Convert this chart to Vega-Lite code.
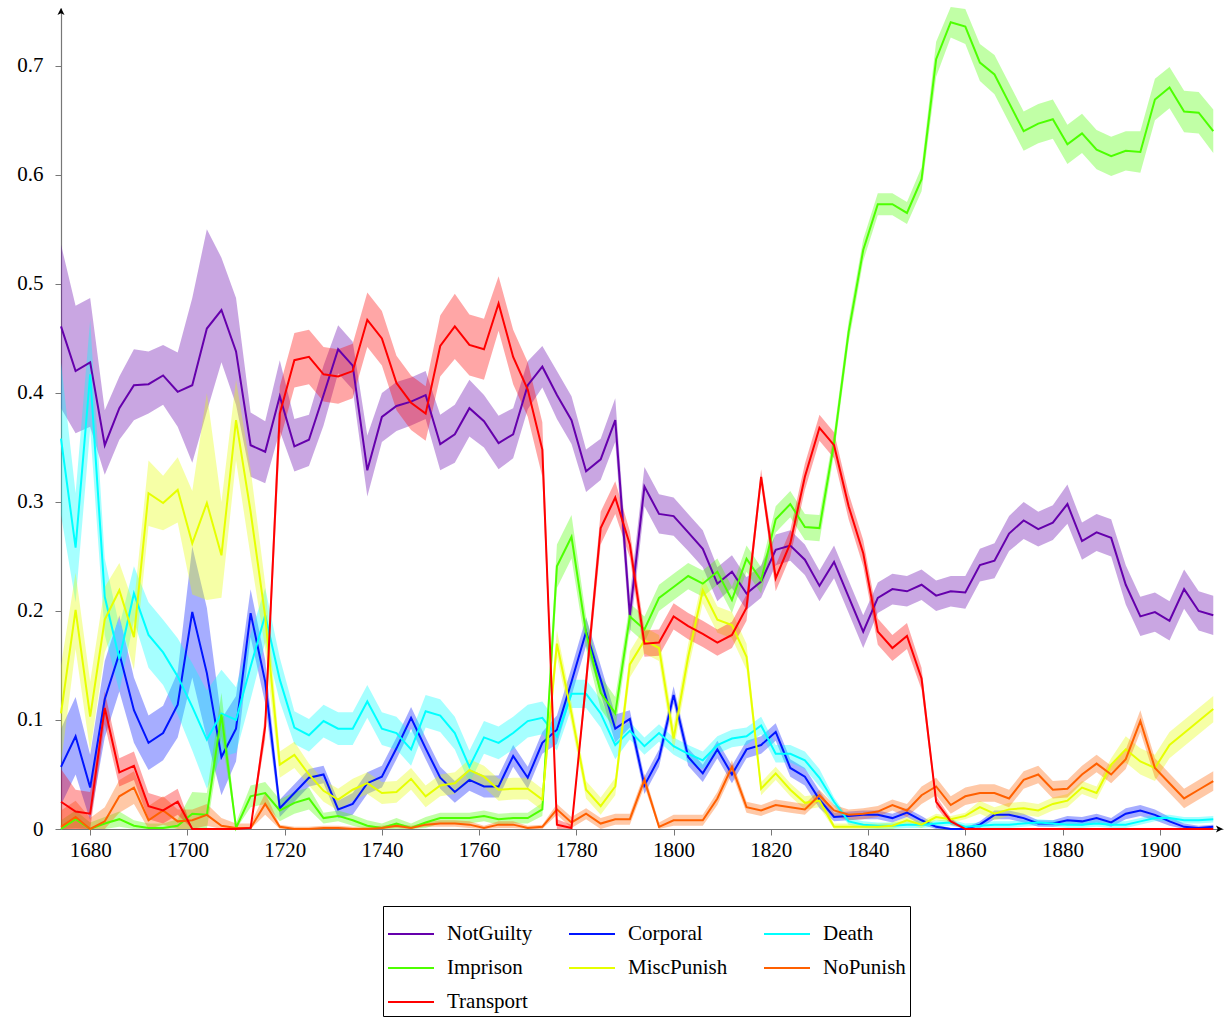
{
"$schema": "https://vega.github.io/schema/vega-lite/v6.json",
"width": 1162,
"height": 821,
"autosize": {"type": "none"},
"padding": {"left": 61, "top": 8, "right": 1, "bottom": 189},
"background": "white",
"config": {"view": {"stroke": null}, "font": "Liberation Serif"},
"datasets": {
"d": [
{"s":"NotGuilty","x":1674,"y":0.461,"hi":0.536,"lo":0.386},
{"s":"NotGuilty","x":1677,"y":0.420,"hi":0.480,"lo":0.363},
{"s":"NotGuilty","x":1680,"y":0.428,"hi":0.487,"lo":0.369},
{"s":"NotGuilty","x":1683,"y":0.352,"hi":0.384,"lo":0.325},
{"s":"NotGuilty","x":1686,"y":0.386,"hi":0.415,"lo":0.357},
{"s":"NotGuilty","x":1689,"y":0.407,"hi":0.440,"lo":0.375},
{"s":"NotGuilty","x":1692,"y":0.408,"hi":0.438,"lo":0.381},
{"s":"NotGuilty","x":1695,"y":0.416,"hi":0.444,"lo":0.389},
{"s":"NotGuilty","x":1698,"y":0.401,"hi":0.437,"lo":0.369},
{"s":"NotGuilty","x":1701,"y":0.407,"hi":0.487,"lo":0.336},
{"s":"NotGuilty","x":1704,"y":0.459,"hi":0.550,"lo":0.383},
{"s":"NotGuilty","x":1707,"y":0.476,"hi":0.524,"lo":0.428},
{"s":"NotGuilty","x":1710,"y":0.438,"hi":0.487,"lo":0.389},
{"s":"NotGuilty","x":1713,"y":0.352,"hi":0.382,"lo":0.323},
{"s":"NotGuilty","x":1716,"y":0.346,"hi":0.374,"lo":0.317},
{"s":"NotGuilty","x":1719,"y":0.397,"hi":0.430,"lo":0.365},
{"s":"NotGuilty","x":1722,"y":0.351,"hi":0.376,"lo":0.328},
{"s":"NotGuilty","x":1725,"y":0.357,"hi":0.380,"lo":0.333},
{"s":"NotGuilty","x":1728,"y":0.398,"hi":0.425,"lo":0.370},
{"s":"NotGuilty","x":1731,"y":0.440,"hi":0.462,"lo":0.418},
{"s":"NotGuilty","x":1734,"y":0.425,"hi":0.447,"lo":0.403},
{"s":"NotGuilty","x":1737,"y":0.329,"hi":0.361,"lo":0.305},
{"s":"NotGuilty","x":1740,"y":0.378,"hi":0.400,"lo":0.355},
{"s":"NotGuilty","x":1743,"y":0.388,"hi":0.410,"lo":0.365},
{"s":"NotGuilty","x":1746,"y":0.392,"hi":0.414,"lo":0.370},
{"s":"NotGuilty","x":1749,"y":0.398,"hi":0.420,"lo":0.376},
{"s":"NotGuilty","x":1752,"y":0.353,"hi":0.380,"lo":0.329},
{"s":"NotGuilty","x":1755,"y":0.362,"hi":0.389,"lo":0.336},
{"s":"NotGuilty","x":1758,"y":0.386,"hi":0.412,"lo":0.360},
{"s":"NotGuilty","x":1761,"y":0.374,"hi":0.398,"lo":0.350},
{"s":"NotGuilty","x":1764,"y":0.354,"hi":0.379,"lo":0.330},
{"s":"NotGuilty","x":1767,"y":0.362,"hi":0.386,"lo":0.340},
{"s":"NotGuilty","x":1770,"y":0.407,"hi":0.429,"lo":0.385},
{"s":"NotGuilty","x":1773,"y":0.424,"hi":0.443,"lo":0.405},
{"s":"NotGuilty","x":1776,"y":0.398,"hi":0.420,"lo":0.376},
{"s":"NotGuilty","x":1779,"y":0.375,"hi":0.397,"lo":0.353},
{"s":"NotGuilty","x":1782,"y":0.328,"hi":0.348,"lo":0.309},
{"s":"NotGuilty","x":1785,"y":0.339,"hi":0.358,"lo":0.320},
{"s":"NotGuilty","x":1788,"y":0.375,"hi":0.395,"lo":0.355},
{"s":"NotGuilty","x":1791,"y":0.196,"hi":0.214,"lo":0.178},
{"s":"NotGuilty","x":1794,"y":0.314,"hi":0.332,"lo":0.296},
{"s":"NotGuilty","x":1797,"y":0.289,"hi":0.307,"lo":0.271},
{"s":"NotGuilty","x":1800,"y":0.287,"hi":0.304,"lo":0.269},
{"s":"NotGuilty","x":1803,"y":0.272,"hi":0.289,"lo":0.255},
{"s":"NotGuilty","x":1806,"y":0.257,"hi":0.274,"lo":0.240},
{"s":"NotGuilty","x":1809,"y":0.225,"hi":0.240,"lo":0.209},
{"s":"NotGuilty","x":1812,"y":0.236,"hi":0.251,"lo":0.221},
{"s":"NotGuilty","x":1815,"y":0.216,"hi":0.231,"lo":0.201},
{"s":"NotGuilty","x":1818,"y":0.227,"hi":0.242,"lo":0.212},
{"s":"NotGuilty","x":1821,"y":0.256,"hi":0.270,"lo":0.242},
{"s":"NotGuilty","x":1824,"y":0.260,"hi":0.274,"lo":0.246},
{"s":"NotGuilty","x":1827,"y":0.247,"hi":0.261,"lo":0.233},
{"s":"NotGuilty","x":1830,"y":0.223,"hi":0.237,"lo":0.209},
{"s":"NotGuilty","x":1833,"y":0.245,"hi":0.260,"lo":0.230},
{"s":"NotGuilty","x":1836,"y":0.213,"hi":0.228,"lo":0.198},
{"s":"NotGuilty","x":1839,"y":0.181,"hi":0.196,"lo":0.166},
{"s":"NotGuilty","x":1842,"y":0.212,"hi":0.226,"lo":0.198},
{"s":"NotGuilty","x":1845,"y":0.220,"hi":0.234,"lo":0.206},
{"s":"NotGuilty","x":1848,"y":0.218,"hi":0.232,"lo":0.204},
{"s":"NotGuilty","x":1851,"y":0.224,"hi":0.238,"lo":0.210},
{"s":"NotGuilty","x":1854,"y":0.214,"hi":0.228,"lo":0.200},
{"s":"NotGuilty","x":1857,"y":0.218,"hi":0.232,"lo":0.204},
{"s":"NotGuilty","x":1860,"y":0.217,"hi":0.232,"lo":0.202},
{"s":"NotGuilty","x":1863,"y":0.242,"hi":0.257,"lo":0.227},
{"s":"NotGuilty","x":1866,"y":0.246,"hi":0.262,"lo":0.230},
{"s":"NotGuilty","x":1869,"y":0.271,"hi":0.287,"lo":0.255},
{"s":"NotGuilty","x":1872,"y":0.283,"hi":0.300,"lo":0.266},
{"s":"NotGuilty","x":1875,"y":0.275,"hi":0.291,"lo":0.259},
{"s":"NotGuilty","x":1878,"y":0.281,"hi":0.297,"lo":0.265},
{"s":"NotGuilty","x":1881,"y":0.298,"hi":0.316,"lo":0.280},
{"s":"NotGuilty","x":1884,"y":0.264,"hi":0.281,"lo":0.247},
{"s":"NotGuilty","x":1887,"y":0.272,"hi":0.289,"lo":0.255},
{"s":"NotGuilty","x":1890,"y":0.267,"hi":0.284,"lo":0.250},
{"s":"NotGuilty","x":1893,"y":0.224,"hi":0.242,"lo":0.206},
{"s":"NotGuilty","x":1896,"y":0.195,"hi":0.213,"lo":0.177},
{"s":"NotGuilty","x":1899,"y":0.199,"hi":0.217,"lo":0.181},
{"s":"NotGuilty","x":1902,"y":0.191,"hi":0.209,"lo":0.173},
{"s":"NotGuilty","x":1905,"y":0.220,"hi":0.238,"lo":0.202},
{"s":"NotGuilty","x":1908,"y":0.200,"hi":0.218,"lo":0.182},
{"s":"NotGuilty","x":1911,"y":0.196,"hi":0.214,"lo":0.178},
{"s":"Corporal","x":1674,"y":0.057,"hi":0.092,"lo":0.022},
{"s":"Corporal","x":1677,"y":0.085,"hi":0.121,"lo":0.050},
{"s":"Corporal","x":1680,"y":0.038,"hi":0.068,"lo":0.008},
{"s":"Corporal","x":1683,"y":0.119,"hi":0.154,"lo":0.084},
{"s":"Corporal","x":1686,"y":0.161,"hi":0.196,"lo":0.126},
{"s":"Corporal","x":1689,"y":0.109,"hi":0.139,"lo":0.079},
{"s":"Corporal","x":1692,"y":0.079,"hi":0.104,"lo":0.054},
{"s":"Corporal","x":1695,"y":0.088,"hi":0.113,"lo":0.063},
{"s":"Corporal","x":1698,"y":0.114,"hi":0.144,"lo":0.084},
{"s":"Corporal","x":1701,"y":0.199,"hi":0.259,"lo":0.139},
{"s":"Corporal","x":1704,"y":0.143,"hi":0.203,"lo":0.083},
{"s":"Corporal","x":1707,"y":0.066,"hi":0.101,"lo":0.031},
{"s":"Corporal","x":1710,"y":0.092,"hi":0.122,"lo":0.062},
{"s":"Corporal","x":1713,"y":0.198,"hi":0.220,"lo":0.176},
{"s":"Corporal","x":1716,"y":0.135,"hi":0.155,"lo":0.115},
{"s":"Corporal","x":1719,"y":0.019,"hi":0.027,"lo":0.011},
{"s":"Corporal","x":1722,"y":0.033,"hi":0.041,"lo":0.025},
{"s":"Corporal","x":1725,"y":0.047,"hi":0.055,"lo":0.039},
{"s":"Corporal","x":1728,"y":0.050,"hi":0.058,"lo":0.042},
{"s":"Corporal","x":1731,"y":0.018,"hi":0.026,"lo":0.010},
{"s":"Corporal","x":1734,"y":0.023,"hi":0.033,"lo":0.013},
{"s":"Corporal","x":1737,"y":0.042,"hi":0.052,"lo":0.032},
{"s":"Corporal","x":1740,"y":0.048,"hi":0.058,"lo":0.038},
{"s":"Corporal","x":1743,"y":0.074,"hi":0.084,"lo":0.064},
{"s":"Corporal","x":1746,"y":0.102,"hi":0.112,"lo":0.092},
{"s":"Corporal","x":1749,"y":0.074,"hi":0.084,"lo":0.064},
{"s":"Corporal","x":1752,"y":0.047,"hi":0.057,"lo":0.037},
{"s":"Corporal","x":1755,"y":0.034,"hi":0.044,"lo":0.024},
{"s":"Corporal","x":1758,"y":0.045,"hi":0.055,"lo":0.035},
{"s":"Corporal","x":1761,"y":0.039,"hi":0.049,"lo":0.029},
{"s":"Corporal","x":1764,"y":0.039,"hi":0.049,"lo":0.029},
{"s":"Corporal","x":1767,"y":0.067,"hi":0.077,"lo":0.057},
{"s":"Corporal","x":1770,"y":0.047,"hi":0.057,"lo":0.037},
{"s":"Corporal","x":1773,"y":0.079,"hi":0.089,"lo":0.069},
{"s":"Corporal","x":1776,"y":0.091,"hi":0.104,"lo":0.078},
{"s":"Corporal","x":1779,"y":0.135,"hi":0.148,"lo":0.122},
{"s":"Corporal","x":1782,"y":0.181,"hi":0.194,"lo":0.168},
{"s":"Corporal","x":1785,"y":0.137,"hi":0.150,"lo":0.124},
{"s":"Corporal","x":1788,"y":0.092,"hi":0.105,"lo":0.079},
{"s":"Corporal","x":1791,"y":0.101,"hi":0.109,"lo":0.093},
{"s":"Corporal","x":1794,"y":0.040,"hi":0.048,"lo":0.032},
{"s":"Corporal","x":1797,"y":0.065,"hi":0.073,"lo":0.057},
{"s":"Corporal","x":1800,"y":0.123,"hi":0.131,"lo":0.115},
{"s":"Corporal","x":1803,"y":0.066,"hi":0.074,"lo":0.058},
{"s":"Corporal","x":1806,"y":0.051,"hi":0.059,"lo":0.043},
{"s":"Corporal","x":1809,"y":0.073,"hi":0.081,"lo":0.065},
{"s":"Corporal","x":1812,"y":0.050,"hi":0.058,"lo":0.042},
{"s":"Corporal","x":1815,"y":0.073,"hi":0.081,"lo":0.065},
{"s":"Corporal","x":1818,"y":0.077,"hi":0.085,"lo":0.069},
{"s":"Corporal","x":1821,"y":0.089,"hi":0.097,"lo":0.081},
{"s":"Corporal","x":1824,"y":0.056,"hi":0.064,"lo":0.048},
{"s":"Corporal","x":1827,"y":0.048,"hi":0.056,"lo":0.040},
{"s":"Corporal","x":1830,"y":0.027,"hi":0.035,"lo":0.019},
{"s":"Corporal","x":1833,"y":0.011,"hi":0.015,"lo":0.007},
{"s":"Corporal","x":1836,"y":0.012,"hi":0.016,"lo":0.008},
{"s":"Corporal","x":1839,"y":0.013,"hi":0.017,"lo":0.009},
{"s":"Corporal","x":1842,"y":0.013,"hi":0.017,"lo":0.009},
{"s":"Corporal","x":1845,"y":0.010,"hi":0.014,"lo":0.006},
{"s":"Corporal","x":1848,"y":0.015,"hi":0.019,"lo":0.011},
{"s":"Corporal","x":1851,"y":0.008,"hi":0.012,"lo":0.004},
{"s":"Corporal","x":1854,"y":0.002,"hi":0.004,"lo":0.000},
{"s":"Corporal","x":1857,"y":0.000,"hi":0.001,"lo":0.000},
{"s":"Corporal","x":1860,"y":0.000,"hi":0.001,"lo":0.000},
{"s":"Corporal","x":1863,"y":0.004,"hi":0.007,"lo":0.001},
{"s":"Corporal","x":1866,"y":0.013,"hi":0.017,"lo":0.009},
{"s":"Corporal","x":1869,"y":0.013,"hi":0.017,"lo":0.009},
{"s":"Corporal","x":1872,"y":0.010,"hi":0.014,"lo":0.006},
{"s":"Corporal","x":1875,"y":0.005,"hi":0.008,"lo":0.002},
{"s":"Corporal","x":1878,"y":0.005,"hi":0.008,"lo":0.002},
{"s":"Corporal","x":1881,"y":0.008,"hi":0.012,"lo":0.004},
{"s":"Corporal","x":1884,"y":0.007,"hi":0.011,"lo":0.003},
{"s":"Corporal","x":1887,"y":0.010,"hi":0.014,"lo":0.006},
{"s":"Corporal","x":1890,"y":0.006,"hi":0.010,"lo":0.002},
{"s":"Corporal","x":1893,"y":0.014,"hi":0.019,"lo":0.009},
{"s":"Corporal","x":1896,"y":0.017,"hi":0.022,"lo":0.012},
{"s":"Corporal","x":1899,"y":0.013,"hi":0.018,"lo":0.008},
{"s":"Corporal","x":1902,"y":0.007,"hi":0.011,"lo":0.003},
{"s":"Corporal","x":1905,"y":0.002,"hi":0.005,"lo":0.000},
{"s":"Corporal","x":1908,"y":0.001,"hi":0.003,"lo":0.000},
{"s":"Corporal","x":1911,"y":0.002,"hi":0.004,"lo":0.000},
{"s":"Death","x":1674,"y":0.358,"hi":0.428,"lo":0.288},
{"s":"Death","x":1677,"y":0.258,"hi":0.308,"lo":0.208},
{"s":"Death","x":1680,"y":0.417,"hi":0.467,"lo":0.367},
{"s":"Death","x":1683,"y":0.213,"hi":0.248,"lo":0.178},
{"s":"Death","x":1686,"y":0.156,"hi":0.186,"lo":0.126},
{"s":"Death","x":1689,"y":0.216,"hi":0.241,"lo":0.191},
{"s":"Death","x":1692,"y":0.178,"hi":0.208,"lo":0.148},
{"s":"Death","x":1695,"y":0.162,"hi":0.192,"lo":0.132},
{"s":"Death","x":1698,"y":0.140,"hi":0.175,"lo":0.105},
{"s":"Death","x":1701,"y":0.112,"hi":0.152,"lo":0.072},
{"s":"Death","x":1704,"y":0.082,"hi":0.127,"lo":0.037},
{"s":"Death","x":1707,"y":0.106,"hi":0.146,"lo":0.066},
{"s":"Death","x":1710,"y":0.100,"hi":0.130,"lo":0.070},
{"s":"Death","x":1713,"y":0.149,"hi":0.179,"lo":0.119},
{"s":"Death","x":1716,"y":0.196,"hi":0.221,"lo":0.171},
{"s":"Death","x":1719,"y":0.137,"hi":0.157,"lo":0.117},
{"s":"Death","x":1722,"y":0.093,"hi":0.108,"lo":0.078},
{"s":"Death","x":1725,"y":0.086,"hi":0.101,"lo":0.071},
{"s":"Death","x":1728,"y":0.099,"hi":0.114,"lo":0.084},
{"s":"Death","x":1731,"y":0.092,"hi":0.107,"lo":0.077},
{"s":"Death","x":1734,"y":0.092,"hi":0.107,"lo":0.077},
{"s":"Death","x":1737,"y":0.117,"hi":0.132,"lo":0.102},
{"s":"Death","x":1740,"y":0.092,"hi":0.107,"lo":0.077},
{"s":"Death","x":1743,"y":0.088,"hi":0.103,"lo":0.073},
{"s":"Death","x":1746,"y":0.073,"hi":0.088,"lo":0.058},
{"s":"Death","x":1749,"y":0.108,"hi":0.123,"lo":0.093},
{"s":"Death","x":1752,"y":0.104,"hi":0.119,"lo":0.089},
{"s":"Death","x":1755,"y":0.088,"hi":0.103,"lo":0.073},
{"s":"Death","x":1758,"y":0.057,"hi":0.072,"lo":0.042},
{"s":"Death","x":1761,"y":0.084,"hi":0.099,"lo":0.069},
{"s":"Death","x":1764,"y":0.079,"hi":0.094,"lo":0.064},
{"s":"Death","x":1767,"y":0.088,"hi":0.103,"lo":0.073},
{"s":"Death","x":1770,"y":0.099,"hi":0.114,"lo":0.084},
{"s":"Death","x":1773,"y":0.102,"hi":0.117,"lo":0.087},
{"s":"Death","x":1776,"y":0.085,"hi":0.098,"lo":0.072},
{"s":"Death","x":1779,"y":0.124,"hi":0.137,"lo":0.111},
{"s":"Death","x":1782,"y":0.124,"hi":0.137,"lo":0.111},
{"s":"Death","x":1785,"y":0.106,"hi":0.119,"lo":0.093},
{"s":"Death","x":1788,"y":0.077,"hi":0.090,"lo":0.064},
{"s":"Death","x":1791,"y":0.090,"hi":0.098,"lo":0.082},
{"s":"Death","x":1794,"y":0.076,"hi":0.084,"lo":0.068},
{"s":"Death","x":1797,"y":0.088,"hi":0.096,"lo":0.080},
{"s":"Death","x":1800,"y":0.076,"hi":0.084,"lo":0.068},
{"s":"Death","x":1803,"y":0.069,"hi":0.077,"lo":0.061},
{"s":"Death","x":1806,"y":0.063,"hi":0.071,"lo":0.055},
{"s":"Death","x":1809,"y":0.077,"hi":0.085,"lo":0.069},
{"s":"Death","x":1812,"y":0.083,"hi":0.091,"lo":0.075},
{"s":"Death","x":1815,"y":0.085,"hi":0.093,"lo":0.077},
{"s":"Death","x":1818,"y":0.095,"hi":0.103,"lo":0.087},
{"s":"Death","x":1821,"y":0.069,"hi":0.077,"lo":0.061},
{"s":"Death","x":1824,"y":0.069,"hi":0.077,"lo":0.061},
{"s":"Death","x":1827,"y":0.063,"hi":0.071,"lo":0.055},
{"s":"Death","x":1830,"y":0.047,"hi":0.055,"lo":0.039},
{"s":"Death","x":1833,"y":0.025,"hi":0.029,"lo":0.021},
{"s":"Death","x":1836,"y":0.007,"hi":0.010,"lo":0.004},
{"s":"Death","x":1839,"y":0.004,"hi":0.007,"lo":0.001},
{"s":"Death","x":1842,"y":0.003,"hi":0.006,"lo":0.000},
{"s":"Death","x":1845,"y":0.003,"hi":0.006,"lo":0.000},
{"s":"Death","x":1848,"y":0.004,"hi":0.007,"lo":0.001},
{"s":"Death","x":1851,"y":0.004,"hi":0.007,"lo":0.001},
{"s":"Death","x":1854,"y":0.005,"hi":0.008,"lo":0.002},
{"s":"Death","x":1857,"y":0.006,"hi":0.009,"lo":0.003},
{"s":"Death","x":1860,"y":0.002,"hi":0.005,"lo":0.000},
{"s":"Death","x":1863,"y":0.003,"hi":0.006,"lo":0.000},
{"s":"Death","x":1866,"y":0.004,"hi":0.007,"lo":0.001},
{"s":"Death","x":1869,"y":0.004,"hi":0.007,"lo":0.001},
{"s":"Death","x":1872,"y":0.005,"hi":0.008,"lo":0.002},
{"s":"Death","x":1875,"y":0.006,"hi":0.009,"lo":0.003},
{"s":"Death","x":1878,"y":0.005,"hi":0.008,"lo":0.002},
{"s":"Death","x":1881,"y":0.004,"hi":0.007,"lo":0.001},
{"s":"Death","x":1884,"y":0.004,"hi":0.007,"lo":0.001},
{"s":"Death","x":1887,"y":0.005,"hi":0.008,"lo":0.002},
{"s":"Death","x":1890,"y":0.004,"hi":0.007,"lo":0.001},
{"s":"Death","x":1893,"y":0.004,"hi":0.007,"lo":0.001},
{"s":"Death","x":1896,"y":0.007,"hi":0.010,"lo":0.004},
{"s":"Death","x":1899,"y":0.010,"hi":0.013,"lo":0.007},
{"s":"Death","x":1902,"y":0.010,"hi":0.013,"lo":0.007},
{"s":"Death","x":1905,"y":0.008,"hi":0.011,"lo":0.005},
{"s":"Death","x":1908,"y":0.008,"hi":0.011,"lo":0.005},
{"s":"Death","x":1911,"y":0.009,"hi":0.012,"lo":0.006},
{"s":"Imprison","x":1674,"y":0.000,"hi":0.008,"lo":0.000},
{"s":"Imprison","x":1677,"y":0.009,"hi":0.017,"lo":0.001},
{"s":"Imprison","x":1680,"y":0.000,"hi":0.006,"lo":0.000},
{"s":"Imprison","x":1683,"y":0.005,"hi":0.011,"lo":0.000},
{"s":"Imprison","x":1686,"y":0.009,"hi":0.016,"lo":0.002},
{"s":"Imprison","x":1689,"y":0.003,"hi":0.008,"lo":0.000},
{"s":"Imprison","x":1692,"y":0.001,"hi":0.005,"lo":0.000},
{"s":"Imprison","x":1695,"y":0.001,"hi":0.005,"lo":0.000},
{"s":"Imprison","x":1698,"y":0.003,"hi":0.009,"lo":0.000},
{"s":"Imprison","x":1701,"y":0.014,"hi":0.034,"lo":0.000},
{"s":"Imprison","x":1704,"y":0.013,"hi":0.033,"lo":0.000},
{"s":"Imprison","x":1707,"y":0.105,"hi":0.125,"lo":0.085},
{"s":"Imprison","x":1710,"y":0.001,"hi":0.006,"lo":0.000},
{"s":"Imprison","x":1713,"y":0.030,"hi":0.040,"lo":0.020},
{"s":"Imprison","x":1716,"y":0.033,"hi":0.043,"lo":0.023},
{"s":"Imprison","x":1719,"y":0.017,"hi":0.027,"lo":0.007},
{"s":"Imprison","x":1722,"y":0.024,"hi":0.034,"lo":0.014},
{"s":"Imprison","x":1725,"y":0.028,"hi":0.038,"lo":0.018},
{"s":"Imprison","x":1728,"y":0.010,"hi":0.015,"lo":0.005},
{"s":"Imprison","x":1731,"y":0.012,"hi":0.017,"lo":0.007},
{"s":"Imprison","x":1734,"y":0.008,"hi":0.013,"lo":0.003},
{"s":"Imprison","x":1737,"y":0.003,"hi":0.008,"lo":0.000},
{"s":"Imprison","x":1740,"y":0.001,"hi":0.005,"lo":0.000},
{"s":"Imprison","x":1743,"y":0.005,"hi":0.010,"lo":0.000},
{"s":"Imprison","x":1746,"y":0.001,"hi":0.005,"lo":0.000},
{"s":"Imprison","x":1749,"y":0.006,"hi":0.011,"lo":0.001},
{"s":"Imprison","x":1752,"y":0.010,"hi":0.015,"lo":0.005},
{"s":"Imprison","x":1755,"y":0.010,"hi":0.015,"lo":0.005},
{"s":"Imprison","x":1758,"y":0.010,"hi":0.015,"lo":0.005},
{"s":"Imprison","x":1761,"y":0.012,"hi":0.017,"lo":0.007},
{"s":"Imprison","x":1764,"y":0.009,"hi":0.014,"lo":0.004},
{"s":"Imprison","x":1767,"y":0.010,"hi":0.015,"lo":0.005},
{"s":"Imprison","x":1770,"y":0.010,"hi":0.015,"lo":0.005},
{"s":"Imprison","x":1773,"y":0.018,"hi":0.024,"lo":0.012},
{"s":"Imprison","x":1776,"y":0.241,"hi":0.261,"lo":0.221},
{"s":"Imprison","x":1779,"y":0.268,"hi":0.288,"lo":0.248},
{"s":"Imprison","x":1782,"y":0.180,"hi":0.195,"lo":0.165},
{"s":"Imprison","x":1785,"y":0.125,"hi":0.140,"lo":0.110},
{"s":"Imprison","x":1788,"y":0.106,"hi":0.121,"lo":0.091},
{"s":"Imprison","x":1791,"y":0.195,"hi":0.207,"lo":0.183},
{"s":"Imprison","x":1794,"y":0.183,"hi":0.195,"lo":0.171},
{"s":"Imprison","x":1797,"y":0.212,"hi":0.224,"lo":0.200},
{"s":"Imprison","x":1800,"y":0.222,"hi":0.234,"lo":0.210},
{"s":"Imprison","x":1803,"y":0.232,"hi":0.244,"lo":0.220},
{"s":"Imprison","x":1806,"y":0.225,"hi":0.237,"lo":0.213},
{"s":"Imprison","x":1809,"y":0.236,"hi":0.248,"lo":0.224},
{"s":"Imprison","x":1812,"y":0.210,"hi":0.222,"lo":0.198},
{"s":"Imprison","x":1815,"y":0.248,"hi":0.260,"lo":0.236},
{"s":"Imprison","x":1818,"y":0.228,"hi":0.240,"lo":0.216},
{"s":"Imprison","x":1821,"y":0.284,"hi":0.296,"lo":0.272},
{"s":"Imprison","x":1824,"y":0.298,"hi":0.310,"lo":0.286},
{"s":"Imprison","x":1827,"y":0.277,"hi":0.289,"lo":0.265},
{"s":"Imprison","x":1830,"y":0.276,"hi":0.288,"lo":0.264},
{"s":"Imprison","x":1833,"y":0.354,"hi":0.364,"lo":0.344},
{"s":"Imprison","x":1836,"y":0.456,"hi":0.466,"lo":0.446},
{"s":"Imprison","x":1839,"y":0.531,"hi":0.541,"lo":0.521},
{"s":"Imprison","x":1842,"y":0.573,"hi":0.583,"lo":0.563},
{"s":"Imprison","x":1845,"y":0.573,"hi":0.583,"lo":0.563},
{"s":"Imprison","x":1848,"y":0.565,"hi":0.575,"lo":0.555},
{"s":"Imprison","x":1851,"y":0.596,"hi":0.607,"lo":0.585},
{"s":"Imprison","x":1854,"y":0.706,"hi":0.722,"lo":0.690},
{"s":"Imprison","x":1857,"y":0.740,"hi":0.754,"lo":0.726},
{"s":"Imprison","x":1860,"y":0.736,"hi":0.752,"lo":0.720},
{"s":"Imprison","x":1863,"y":0.703,"hi":0.720,"lo":0.686},
{"s":"Imprison","x":1866,"y":0.692,"hi":0.710,"lo":0.674},
{"s":"Imprison","x":1869,"y":0.666,"hi":0.684,"lo":0.648},
{"s":"Imprison","x":1872,"y":0.640,"hi":0.658,"lo":0.622},
{"s":"Imprison","x":1875,"y":0.647,"hi":0.665,"lo":0.629},
{"s":"Imprison","x":1878,"y":0.651,"hi":0.669,"lo":0.633},
{"s":"Imprison","x":1881,"y":0.628,"hi":0.646,"lo":0.610},
{"s":"Imprison","x":1884,"y":0.638,"hi":0.656,"lo":0.620},
{"s":"Imprison","x":1887,"y":0.623,"hi":0.641,"lo":0.605},
{"s":"Imprison","x":1890,"y":0.617,"hi":0.635,"lo":0.599},
{"s":"Imprison","x":1893,"y":0.622,"hi":0.640,"lo":0.604},
{"s":"Imprison","x":1896,"y":0.621,"hi":0.640,"lo":0.602},
{"s":"Imprison","x":1899,"y":0.669,"hi":0.688,"lo":0.650},
{"s":"Imprison","x":1902,"y":0.680,"hi":0.699,"lo":0.661},
{"s":"Imprison","x":1905,"y":0.658,"hi":0.677,"lo":0.639},
{"s":"Imprison","x":1908,"y":0.657,"hi":0.676,"lo":0.638},
{"s":"Imprison","x":1911,"y":0.640,"hi":0.660,"lo":0.620},
{"s":"MiscPunish","x":1674,"y":0.106,"hi":0.150,"lo":0.060},
{"s":"MiscPunish","x":1677,"y":0.201,"hi":0.235,"lo":0.165},
{"s":"MiscPunish","x":1680,"y":0.103,"hi":0.135,"lo":0.071},
{"s":"MiscPunish","x":1683,"y":0.192,"hi":0.222,"lo":0.162},
{"s":"MiscPunish","x":1686,"y":0.219,"hi":0.244,"lo":0.194},
{"s":"MiscPunish","x":1689,"y":0.176,"hi":0.206,"lo":0.146},
{"s":"MiscPunish","x":1692,"y":0.308,"hi":0.338,"lo":0.278},
{"s":"MiscPunish","x":1695,"y":0.299,"hi":0.324,"lo":0.274},
{"s":"MiscPunish","x":1698,"y":0.311,"hi":0.341,"lo":0.281},
{"s":"MiscPunish","x":1701,"y":0.262,"hi":0.310,"lo":0.215},
{"s":"MiscPunish","x":1704,"y":0.299,"hi":0.400,"lo":0.210},
{"s":"MiscPunish","x":1707,"y":0.251,"hi":0.300,"lo":0.212},
{"s":"MiscPunish","x":1710,"y":0.375,"hi":0.412,"lo":0.338},
{"s":"MiscPunish","x":1713,"y":0.291,"hi":0.330,"lo":0.250},
{"s":"MiscPunish","x":1716,"y":0.195,"hi":0.225,"lo":0.165},
{"s":"MiscPunish","x":1719,"y":0.059,"hi":0.071,"lo":0.047},
{"s":"MiscPunish","x":1722,"y":0.068,"hi":0.080,"lo":0.056},
{"s":"MiscPunish","x":1725,"y":0.050,"hi":0.060,"lo":0.040},
{"s":"MiscPunish","x":1728,"y":0.035,"hi":0.045,"lo":0.025},
{"s":"MiscPunish","x":1731,"y":0.027,"hi":0.037,"lo":0.017},
{"s":"MiscPunish","x":1734,"y":0.036,"hi":0.046,"lo":0.026},
{"s":"MiscPunish","x":1737,"y":0.042,"hi":0.052,"lo":0.032},
{"s":"MiscPunish","x":1740,"y":0.033,"hi":0.043,"lo":0.023},
{"s":"MiscPunish","x":1743,"y":0.034,"hi":0.044,"lo":0.024},
{"s":"MiscPunish","x":1746,"y":0.046,"hi":0.056,"lo":0.036},
{"s":"MiscPunish","x":1749,"y":0.030,"hi":0.040,"lo":0.020},
{"s":"MiscPunish","x":1752,"y":0.040,"hi":0.050,"lo":0.030},
{"s":"MiscPunish","x":1755,"y":0.042,"hi":0.052,"lo":0.032},
{"s":"MiscPunish","x":1758,"y":0.054,"hi":0.064,"lo":0.044},
{"s":"MiscPunish","x":1761,"y":0.048,"hi":0.058,"lo":0.038},
{"s":"MiscPunish","x":1764,"y":0.036,"hi":0.046,"lo":0.026},
{"s":"MiscPunish","x":1767,"y":0.037,"hi":0.047,"lo":0.027},
{"s":"MiscPunish","x":1770,"y":0.037,"hi":0.047,"lo":0.027},
{"s":"MiscPunish","x":1773,"y":0.027,"hi":0.037,"lo":0.017},
{"s":"MiscPunish","x":1776,"y":0.170,"hi":0.182,"lo":0.158},
{"s":"MiscPunish","x":1779,"y":0.106,"hi":0.116,"lo":0.096},
{"s":"MiscPunish","x":1782,"y":0.036,"hi":0.044,"lo":0.028},
{"s":"MiscPunish","x":1785,"y":0.021,"hi":0.029,"lo":0.013},
{"s":"MiscPunish","x":1788,"y":0.039,"hi":0.047,"lo":0.031},
{"s":"MiscPunish","x":1791,"y":0.151,"hi":0.163,"lo":0.139},
{"s":"MiscPunish","x":1794,"y":0.173,"hi":0.185,"lo":0.161},
{"s":"MiscPunish","x":1797,"y":0.166,"hi":0.178,"lo":0.154},
{"s":"MiscPunish","x":1800,"y":0.083,"hi":0.095,"lo":0.071},
{"s":"MiscPunish","x":1803,"y":0.158,"hi":0.170,"lo":0.146},
{"s":"MiscPunish","x":1806,"y":0.219,"hi":0.231,"lo":0.207},
{"s":"MiscPunish","x":1809,"y":0.192,"hi":0.204,"lo":0.180},
{"s":"MiscPunish","x":1812,"y":0.187,"hi":0.199,"lo":0.175},
{"s":"MiscPunish","x":1815,"y":0.158,"hi":0.170,"lo":0.146},
{"s":"MiscPunish","x":1818,"y":0.037,"hi":0.043,"lo":0.031},
{"s":"MiscPunish","x":1821,"y":0.051,"hi":0.057,"lo":0.045},
{"s":"MiscPunish","x":1824,"y":0.036,"hi":0.042,"lo":0.030},
{"s":"MiscPunish","x":1827,"y":0.024,"hi":0.030,"lo":0.018},
{"s":"MiscPunish","x":1830,"y":0.026,"hi":0.032,"lo":0.020},
{"s":"MiscPunish","x":1833,"y":0.002,"hi":0.005,"lo":0.000},
{"s":"MiscPunish","x":1836,"y":0.002,"hi":0.005,"lo":0.000},
{"s":"MiscPunish","x":1839,"y":0.002,"hi":0.005,"lo":0.000},
{"s":"MiscPunish","x":1842,"y":0.002,"hi":0.005,"lo":0.000},
{"s":"MiscPunish","x":1845,"y":0.003,"hi":0.006,"lo":0.000},
{"s":"MiscPunish","x":1848,"y":0.008,"hi":0.011,"lo":0.005},
{"s":"MiscPunish","x":1851,"y":0.004,"hi":0.007,"lo":0.001},
{"s":"MiscPunish","x":1854,"y":0.011,"hi":0.014,"lo":0.008},
{"s":"MiscPunish","x":1857,"y":0.009,"hi":0.012,"lo":0.006},
{"s":"MiscPunish","x":1860,"y":0.012,"hi":0.015,"lo":0.009},
{"s":"MiscPunish","x":1863,"y":0.020,"hi":0.026,"lo":0.014},
{"s":"MiscPunish","x":1866,"y":0.014,"hi":0.020,"lo":0.008},
{"s":"MiscPunish","x":1869,"y":0.018,"hi":0.024,"lo":0.012},
{"s":"MiscPunish","x":1872,"y":0.019,"hi":0.025,"lo":0.013},
{"s":"MiscPunish","x":1875,"y":0.017,"hi":0.023,"lo":0.011},
{"s":"MiscPunish","x":1878,"y":0.023,"hi":0.029,"lo":0.017},
{"s":"MiscPunish","x":1881,"y":0.026,"hi":0.032,"lo":0.020},
{"s":"MiscPunish","x":1884,"y":0.038,"hi":0.044,"lo":0.032},
{"s":"MiscPunish","x":1887,"y":0.033,"hi":0.039,"lo":0.027},
{"s":"MiscPunish","x":1890,"y":0.059,"hi":0.065,"lo":0.053},
{"s":"MiscPunish","x":1893,"y":0.073,"hi":0.085,"lo":0.061},
{"s":"MiscPunish","x":1896,"y":0.062,"hi":0.074,"lo":0.050},
{"s":"MiscPunish","x":1899,"y":0.056,"hi":0.068,"lo":0.044},
{"s":"MiscPunish","x":1902,"y":0.077,"hi":0.089,"lo":0.065},
{"s":"MiscPunish","x":1905,"y":0.088,"hi":0.100,"lo":0.076},
{"s":"MiscPunish","x":1908,"y":0.099,"hi":0.111,"lo":0.087},
{"s":"MiscPunish","x":1911,"y":0.110,"hi":0.122,"lo":0.098},
{"s":"NoPunish","x":1674,"y":0.002,"hi":0.017,"lo":0.000},
{"s":"NoPunish","x":1677,"y":0.011,"hi":0.026,"lo":0.000},
{"s":"NoPunish","x":1680,"y":0.000,"hi":0.010,"lo":0.000},
{"s":"NoPunish","x":1683,"y":0.007,"hi":0.020,"lo":0.000},
{"s":"NoPunish","x":1686,"y":0.030,"hi":0.045,"lo":0.015},
{"s":"NoPunish","x":1689,"y":0.038,"hi":0.053,"lo":0.023},
{"s":"NoPunish","x":1692,"y":0.008,"hi":0.021,"lo":0.000},
{"s":"NoPunish","x":1695,"y":0.017,"hi":0.030,"lo":0.004},
{"s":"NoPunish","x":1698,"y":0.007,"hi":0.018,"lo":0.000},
{"s":"NoPunish","x":1701,"y":0.008,"hi":0.018,"lo":0.000},
{"s":"NoPunish","x":1704,"y":0.013,"hi":0.023,"lo":0.003},
{"s":"NoPunish","x":1707,"y":0.003,"hi":0.010,"lo":0.000},
{"s":"NoPunish","x":1710,"y":0.001,"hi":0.005,"lo":0.000},
{"s":"NoPunish","x":1713,"y":0.001,"hi":0.005,"lo":0.000},
{"s":"NoPunish","x":1716,"y":0.023,"hi":0.033,"lo":0.013},
{"s":"NoPunish","x":1719,"y":0.002,"hi":0.004,"lo":0.000},
{"s":"NoPunish","x":1722,"y":0.000,"hi":0.002,"lo":0.000},
{"s":"NoPunish","x":1725,"y":0.000,"hi":0.002,"lo":0.000},
{"s":"NoPunish","x":1728,"y":0.001,"hi":0.003,"lo":0.000},
{"s":"NoPunish","x":1731,"y":0.001,"hi":0.003,"lo":0.000},
{"s":"NoPunish","x":1734,"y":0.000,"hi":0.002,"lo":0.000},
{"s":"NoPunish","x":1737,"y":0.000,"hi":0.002,"lo":0.000},
{"s":"NoPunish","x":1740,"y":0.001,"hi":0.003,"lo":0.000},
{"s":"NoPunish","x":1743,"y":0.003,"hi":0.005,"lo":0.001},
{"s":"NoPunish","x":1746,"y":0.001,"hi":0.003,"lo":0.000},
{"s":"NoPunish","x":1749,"y":0.004,"hi":0.006,"lo":0.002},
{"s":"NoPunish","x":1752,"y":0.005,"hi":0.008,"lo":0.002},
{"s":"NoPunish","x":1755,"y":0.005,"hi":0.008,"lo":0.002},
{"s":"NoPunish","x":1758,"y":0.004,"hi":0.007,"lo":0.001},
{"s":"NoPunish","x":1761,"y":0.001,"hi":0.003,"lo":0.000},
{"s":"NoPunish","x":1764,"y":0.004,"hi":0.007,"lo":0.001},
{"s":"NoPunish","x":1767,"y":0.004,"hi":0.007,"lo":0.001},
{"s":"NoPunish","x":1770,"y":0.001,"hi":0.003,"lo":0.000},
{"s":"NoPunish","x":1773,"y":0.002,"hi":0.004,"lo":0.000},
{"s":"NoPunish","x":1776,"y":0.018,"hi":0.023,"lo":0.013},
{"s":"NoPunish","x":1779,"y":0.006,"hi":0.011,"lo":0.001},
{"s":"NoPunish","x":1782,"y":0.014,"hi":0.019,"lo":0.009},
{"s":"NoPunish","x":1785,"y":0.005,"hi":0.010,"lo":0.000},
{"s":"NoPunish","x":1788,"y":0.009,"hi":0.014,"lo":0.004},
{"s":"NoPunish","x":1791,"y":0.009,"hi":0.014,"lo":0.004},
{"s":"NoPunish","x":1794,"y":0.045,"hi":0.051,"lo":0.039},
{"s":"NoPunish","x":1797,"y":0.002,"hi":0.006,"lo":0.000},
{"s":"NoPunish","x":1800,"y":0.008,"hi":0.013,"lo":0.003},
{"s":"NoPunish","x":1803,"y":0.008,"hi":0.013,"lo":0.003},
{"s":"NoPunish","x":1806,"y":0.008,"hi":0.013,"lo":0.003},
{"s":"NoPunish","x":1809,"y":0.028,"hi":0.034,"lo":0.022},
{"s":"NoPunish","x":1812,"y":0.057,"hi":0.063,"lo":0.051},
{"s":"NoPunish","x":1815,"y":0.020,"hi":0.025,"lo":0.015},
{"s":"NoPunish","x":1818,"y":0.017,"hi":0.022,"lo":0.012},
{"s":"NoPunish","x":1821,"y":0.022,"hi":0.027,"lo":0.017},
{"s":"NoPunish","x":1824,"y":0.020,"hi":0.025,"lo":0.015},
{"s":"NoPunish","x":1827,"y":0.018,"hi":0.023,"lo":0.013},
{"s":"NoPunish","x":1830,"y":0.031,"hi":0.036,"lo":0.026},
{"s":"NoPunish","x":1833,"y":0.017,"hi":0.022,"lo":0.012},
{"s":"NoPunish","x":1836,"y":0.013,"hi":0.018,"lo":0.008},
{"s":"NoPunish","x":1839,"y":0.014,"hi":0.019,"lo":0.009},
{"s":"NoPunish","x":1842,"y":0.016,"hi":0.021,"lo":0.011},
{"s":"NoPunish","x":1845,"y":0.022,"hi":0.027,"lo":0.017},
{"s":"NoPunish","x":1848,"y":0.017,"hi":0.023,"lo":0.011},
{"s":"NoPunish","x":1851,"y":0.031,"hi":0.039,"lo":0.023},
{"s":"NoPunish","x":1854,"y":0.039,"hi":0.047,"lo":0.031},
{"s":"NoPunish","x":1857,"y":0.022,"hi":0.030,"lo":0.014},
{"s":"NoPunish","x":1860,"y":0.030,"hi":0.038,"lo":0.022},
{"s":"NoPunish","x":1863,"y":0.033,"hi":0.041,"lo":0.025},
{"s":"NoPunish","x":1866,"y":0.033,"hi":0.041,"lo":0.025},
{"s":"NoPunish","x":1869,"y":0.028,"hi":0.036,"lo":0.020},
{"s":"NoPunish","x":1872,"y":0.045,"hi":0.053,"lo":0.037},
{"s":"NoPunish","x":1875,"y":0.050,"hi":0.058,"lo":0.042},
{"s":"NoPunish","x":1878,"y":0.036,"hi":0.044,"lo":0.028},
{"s":"NoPunish","x":1881,"y":0.037,"hi":0.045,"lo":0.029},
{"s":"NoPunish","x":1884,"y":0.050,"hi":0.058,"lo":0.042},
{"s":"NoPunish","x":1887,"y":0.060,"hi":0.068,"lo":0.052},
{"s":"NoPunish","x":1890,"y":0.050,"hi":0.058,"lo":0.042},
{"s":"NoPunish","x":1893,"y":0.064,"hi":0.073,"lo":0.055},
{"s":"NoPunish","x":1896,"y":0.099,"hi":0.109,"lo":0.089},
{"s":"NoPunish","x":1899,"y":0.056,"hi":0.065,"lo":0.047},
{"s":"NoPunish","x":1902,"y":0.042,"hi":0.051,"lo":0.033},
{"s":"NoPunish","x":1905,"y":0.028,"hi":0.037,"lo":0.019},
{"s":"NoPunish","x":1908,"y":0.036,"hi":0.045,"lo":0.027},
{"s":"NoPunish","x":1911,"y":0.044,"hi":0.053,"lo":0.035},
{"s":"Transport","x":1674,"y":0.025,"hi":0.055,"lo":0.000},
{"s":"Transport","x":1677,"y":0.016,"hi":0.036,"lo":0.000},
{"s":"Transport","x":1680,"y":0.014,"hi":0.034,"lo":0.000},
{"s":"Transport","x":1683,"y":0.111,"hi":0.126,"lo":0.096},
{"s":"Transport","x":1686,"y":0.052,"hi":0.065,"lo":0.039},
{"s":"Transport","x":1689,"y":0.058,"hi":0.071,"lo":0.045},
{"s":"Transport","x":1692,"y":0.021,"hi":0.033,"lo":0.009},
{"s":"Transport","x":1695,"y":0.017,"hi":0.029,"lo":0.005},
{"s":"Transport","x":1698,"y":0.025,"hi":0.037,"lo":0.013},
{"s":"Transport","x":1701,"y":0.000,"hi":0.000,"lo":0.000},
{"s":"Transport","x":1704,"y":0.000,"hi":0.000,"lo":0.000},
{"s":"Transport","x":1707,"y":0.000,"hi":0.000,"lo":0.000},
{"s":"Transport","x":1710,"y":0.000,"hi":0.000,"lo":0.000},
{"s":"Transport","x":1713,"y":0.001,"hi":0.002,"lo":0.000},
{"s":"Transport","x":1716,"y":0.094,"hi":0.106,"lo":0.082},
{"s":"Transport","x":1719,"y":0.381,"hi":0.406,"lo":0.356},
{"s":"Transport","x":1722,"y":0.430,"hi":0.455,"lo":0.405},
{"s":"Transport","x":1725,"y":0.433,"hi":0.458,"lo":0.408},
{"s":"Transport","x":1728,"y":0.417,"hi":0.442,"lo":0.392},
{"s":"Transport","x":1731,"y":0.415,"hi":0.440,"lo":0.390},
{"s":"Transport","x":1734,"y":0.420,"hi":0.445,"lo":0.395},
{"s":"Transport","x":1737,"y":0.467,"hi":0.492,"lo":0.442},
{"s":"Transport","x":1740,"y":0.450,"hi":0.475,"lo":0.425},
{"s":"Transport","x":1743,"y":0.409,"hi":0.434,"lo":0.384},
{"s":"Transport","x":1746,"y":0.391,"hi":0.416,"lo":0.366},
{"s":"Transport","x":1749,"y":0.381,"hi":0.406,"lo":0.356},
{"s":"Transport","x":1752,"y":0.443,"hi":0.471,"lo":0.415},
{"s":"Transport","x":1755,"y":0.461,"hi":0.491,"lo":0.431},
{"s":"Transport","x":1758,"y":0.444,"hi":0.472,"lo":0.416},
{"s":"Transport","x":1761,"y":0.440,"hi":0.468,"lo":0.412},
{"s":"Transport","x":1764,"y":0.482,"hi":0.507,"lo":0.457},
{"s":"Transport","x":1767,"y":0.433,"hi":0.458,"lo":0.408},
{"s":"Transport","x":1770,"y":0.403,"hi":0.428,"lo":0.378},
{"s":"Transport","x":1773,"y":0.348,"hi":0.373,"lo":0.323},
{"s":"Transport","x":1776,"y":0.004,"hi":0.009,"lo":0.000},
{"s":"Transport","x":1779,"y":0.001,"hi":0.004,"lo":0.000},
{"s":"Transport","x":1782,"y":0.135,"hi":0.145,"lo":0.125},
{"s":"Transport","x":1785,"y":0.276,"hi":0.291,"lo":0.261},
{"s":"Transport","x":1788,"y":0.304,"hi":0.319,"lo":0.289},
{"s":"Transport","x":1791,"y":0.261,"hi":0.273,"lo":0.249},
{"s":"Transport","x":1794,"y":0.170,"hi":0.182,"lo":0.158},
{"s":"Transport","x":1797,"y":0.171,"hi":0.183,"lo":0.159},
{"s":"Transport","x":1800,"y":0.195,"hi":0.207,"lo":0.183},
{"s":"Transport","x":1803,"y":0.186,"hi":0.198,"lo":0.174},
{"s":"Transport","x":1806,"y":0.179,"hi":0.191,"lo":0.167},
{"s":"Transport","x":1809,"y":0.171,"hi":0.183,"lo":0.159},
{"s":"Transport","x":1812,"y":0.178,"hi":0.190,"lo":0.166},
{"s":"Transport","x":1815,"y":0.203,"hi":0.215,"lo":0.191},
{"s":"Transport","x":1818,"y":0.323,"hi":0.330,"lo":0.316},
{"s":"Transport","x":1821,"y":0.230,"hi":0.242,"lo":0.218},
{"s":"Transport","x":1824,"y":0.262,"hi":0.274,"lo":0.250},
{"s":"Transport","x":1827,"y":0.323,"hi":0.335,"lo":0.311},
{"s":"Transport","x":1830,"y":0.368,"hi":0.380,"lo":0.356},
{"s":"Transport","x":1833,"y":0.352,"hi":0.364,"lo":0.340},
{"s":"Transport","x":1836,"y":0.296,"hi":0.308,"lo":0.284},
{"s":"Transport","x":1839,"y":0.253,"hi":0.265,"lo":0.241},
{"s":"Transport","x":1842,"y":0.181,"hi":0.193,"lo":0.169},
{"s":"Transport","x":1845,"y":0.166,"hi":0.178,"lo":0.154},
{"s":"Transport","x":1848,"y":0.177,"hi":0.189,"lo":0.165},
{"s":"Transport","x":1851,"y":0.138,"hi":0.148,"lo":0.128},
{"s":"Transport","x":1854,"y":0.025,"hi":0.030,"lo":0.020},
{"s":"Transport","x":1857,"y":0.007,"hi":0.010,"lo":0.004},
{"s":"Transport","x":1860,"y":0.000,"hi":0.000,"lo":0.000},
{"s":"Transport","x":1863,"y":0.000,"hi":0.000,"lo":0.000},
{"s":"Transport","x":1866,"y":0.000,"hi":0.000,"lo":0.000},
{"s":"Transport","x":1869,"y":0.000,"hi":0.000,"lo":0.000},
{"s":"Transport","x":1872,"y":0.000,"hi":0.000,"lo":0.000},
{"s":"Transport","x":1875,"y":0.000,"hi":0.000,"lo":0.000},
{"s":"Transport","x":1878,"y":0.000,"hi":0.000,"lo":0.000},
{"s":"Transport","x":1881,"y":0.000,"hi":0.000,"lo":0.000},
{"s":"Transport","x":1884,"y":0.000,"hi":0.000,"lo":0.000},
{"s":"Transport","x":1887,"y":0.000,"hi":0.000,"lo":0.000},
{"s":"Transport","x":1890,"y":0.000,"hi":0.000,"lo":0.000},
{"s":"Transport","x":1893,"y":0.000,"hi":0.000,"lo":0.000},
{"s":"Transport","x":1896,"y":0.000,"hi":0.000,"lo":0.000},
{"s":"Transport","x":1899,"y":0.000,"hi":0.000,"lo":0.000},
{"s":"Transport","x":1902,"y":0.000,"hi":0.000,"lo":0.000},
{"s":"Transport","x":1905,"y":0.000,"hi":0.000,"lo":0.000},
{"s":"Transport","x":1908,"y":0.000,"hi":0.000,"lo":0.000},
{"s":"Transport","x":1911,"y":0.000,"hi":0.000,"lo":0.000}
],
"xarrow": [{"x": 1913, "y": 0}],
"yarrow": [{"x": 1674, "y": 0.753}]
},
"layer": [
{
"data": {"name": "d"},
"mark": {"type": "area", "fillOpacity": 0.35, "interpolate": "linear"},
"encoding": {
"x": {"field": "x", "type": "quantitative",
"scale": {"domain": [1674, 1913], "nice": false, "zero": false},
"axis": {"values": [1680, 1700, 1720, 1740, 1760, 1780, 1800, 1820, 1840, 1860, 1880, 1900], "format": "d", "title": null, "grid": false, "domainColor": "#777777", "domainWidth": 1.2, "tickColor": "#777777", "tickSize": 6, "labelFontSize": 21, "labelFont": "Liberation Serif", "labelColor": "black", "labelPadding": 4}},
"y": {"field": "lo", "type": "quantitative", "stack": null,
"scale": {"domain": [0, 0.753], "nice": false},
"axis": {"values": [0, 0.1, 0.2, 0.3, 0.4, 0.5, 0.6, 0.7], "format": ".1~f", "title": null, "grid": false, "domainColor": "#777777", "domainWidth": 1.2, "tickColor": "#777777", "tickSize": 6, "labelFontSize": 21, "labelFont": "Liberation Serif", "labelColor": "black", "labelPadding": 12}},
"y2": {"field": "hi"},
"fill": {"field": "s", "type": "nominal",
"scale": {"range": ["#0015ff", "#00ffff", "#4dff00", "#e6ff00", "#ff6000", "#6500ac", "#ff0000"]},
"legend": null}
}
},
{
"data": {"name": "d"},
"mark": {"type": "line", "strokeWidth": 2, "interpolate": "linear"},
"encoding": {
"x": {"field": "x", "type": "quantitative"},
"y": {"field": "y", "type": "quantitative"},
"stroke": {"field": "s", "type": "nominal",
"scale": {"domain": ["NotGuilty", "Corporal", "Death", "Imprison", "MiscPunish", "NoPunish", "Transport"], "range": ["#6500ac", "#0015ff", "#00ffff", "#4dff00", "#e6ff00", "#ff6000", "#ff0000"]},
"legend": {"orient": "none", "legendX": 322, "legendY": 898, "direction": "horizontal", "columns": 3, "title": null, "symbolType": "stroke", "symbolSize": 2116, "symbolStrokeWidth": 2, "labelFontSize": 21, "labelFont": "Liberation Serif", "labelColor": "black", "strokeColor": "black", "fillColor": "white", "padding": 4, "rowPadding": 0, "columnPadding": 32, "labelOffset": 12}}
}
},
{
"data": {"name": "xarrow"},
"mark": {"type": "point", "shape": "M0,0L-1,-0.5L-0.75,0L-1,0.5Z", "size": 200, "filled": true, "color": "black", "opacity": 1, "strokeWidth": 0},
"encoding": {"x": {"field": "x", "type": "quantitative"}, "y": {"field": "y", "type": "quantitative"}}
},
{
"data": {"name": "yarrow"},
"mark": {"type": "point", "shape": "M0,0L-0.5,1L0,0.75L0.5,1Z", "size": 200, "filled": true, "color": "black", "opacity": 1, "strokeWidth": 0},
"encoding": {"x": {"field": "x", "type": "quantitative"}, "y": {"field": "y", "type": "quantitative"}}
}
]
}
